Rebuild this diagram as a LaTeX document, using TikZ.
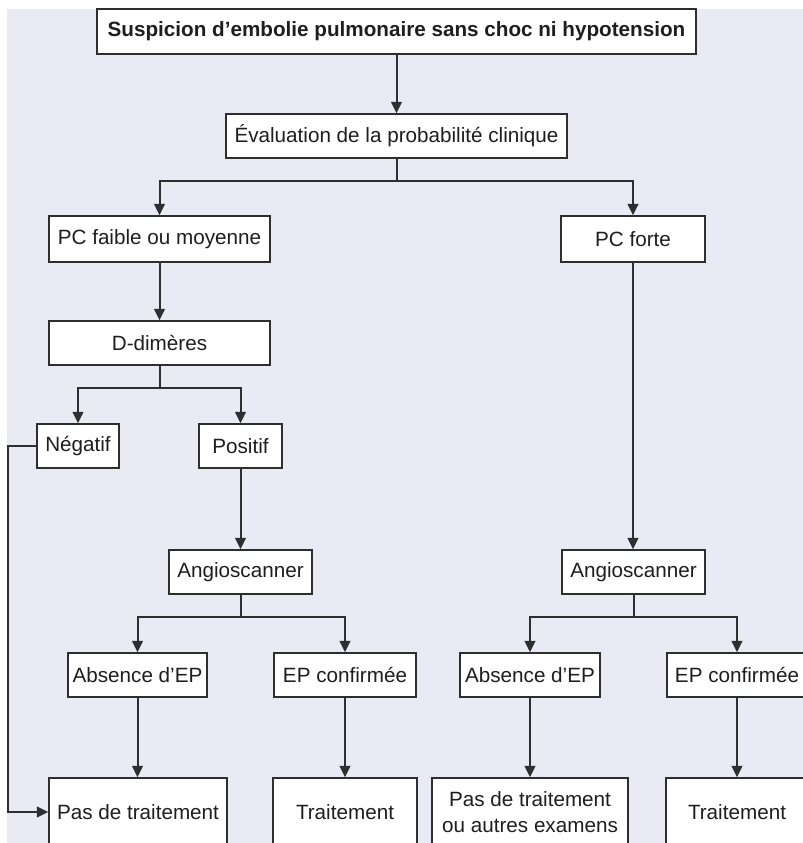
\documentclass[tikz,border=0pt]{standalone}
\usepackage{fontspec}
\setmainfont{Liberation Sans}
\usetikzlibrary{arrows.meta}
\definecolor{bgc}{HTML}{E9EAF4}
\definecolor{ln}{HTML}{2E2E2E}
\definecolor{txt}{HTML}{1E1E1E}
\begin{document}
\begin{tikzpicture}[x=0.75pt,y=-0.75pt,
  box/.style={draw=ln, line width=1.2pt, fill=white, inner sep=0pt, text=txt,
    font=\fontsize{15.5}{19}\selectfont, align=center},
  wh/.style 2 args={minimum width=#1*0.75pt, minimum height=#2*0.75pt},
  arr/.style={draw=ln, line width=1.5pt, -{Triangle[length=8.5pt,width=8pt]}},
  ln2/.style={draw=ln, line width=1.5pt}]
\useasboundingbox (0,0) rectangle (803,843);
\clip (0,0) rectangle (803,843);
\fill[white] (0,0) rectangle (803,843);
\fill[bgc] (7,9) rectangle (803,843);

\node[box, wh={599}{45}, font=\fontsize{15.5}{18}\selectfont\bfseries] (top) at (396.5,31.5) {Suspicion d’embolie pulmonaire sans choc ni hypotension};
\node[box, wh={341}{44}] (eval) at (396.5,136) {Évaluation de la probabilité clinique};
\node[box, wh={221}{46}] (pcf) at (159.5,239) {PC faible ou moyenne};
\node[box, wh={144}{46}] (pcF) at (633,239) {PC forte};
\node[box, wh={221}{44}] (dd) at (159.5,343) {D-dimères};
\node[box, wh={82}{44}] (neg) at (78,446) {Négatif};
\node[box, wh={83}{44}] (pos) at (240.5,446) {Positif};
\node[box, wh={143}{44}] (angL) at (240.5,572) {Angioscanner};
\node[box, wh={143}{44}] (angR) at (633.5,572) {Angioscanner};
\node[box, wh={139}{44}] (absL) at (137.5,675) {Absence d’EP};
\node[box, wh={142}{44}] (confL) at (345,675) {EP confirmée};
\node[box, wh={140}{44}] (absR) at (530,675) {Absence d’EP};
\node[box, wh={140}{44}] (confR) at (737,675) {EP confirmée};
\node[box, wh={178}{68}] (pdtL) at (138,812) {Pas de traitement};
\node[box, wh={144}{68}] (trL) at (345,812) {Traitement};
\node[box, wh={196}{68}] (pdtR) at (530,812) {Pas de traitement\\ou autres examens};
\node[box, wh={142}{68}] (trR) at (737,812) {Traitement};

\coordinate (j1) at (396.5,181);
\coordinate (j2) at (159.5,388);
\coordinate (j3) at (240.5,617);
\coordinate (j4) at (633.5,617);
\coordinate (nl) at (8,446);

\draw[arr] (top) -- (eval);
\draw[ln2] (eval.south) -- (j1);
\draw[arr] (j1) -| (pcf.north);
\draw[arr] (j1) -| (pcF.north);
\draw[arr] (pcf) -- (dd);
\draw[ln2] (dd.south) -- (j2);
\draw[arr] (j2) -| (neg.north);
\draw[arr] (j2) -| (pos.north);
\draw[arr] (neg.west) -- (nl) |- (pdtL.west);
\draw[arr] (pos) -- (angL);
\draw[arr] (pcF.south) -- (pcF.south |- angR.north);
\draw[ln2] (angL.south) -- (j3);
\draw[arr] (j3) -| (absL.north);
\draw[arr] (j3) -| (confL.north);
\draw[ln2] (angR.south) -- (j4);
\draw[arr] (j4) -| (absR.north);
\draw[arr] (j4) -| (confR.north);
\draw[arr] (absL.south) -- (absL.south |- pdtL.north);
\draw[arr] (confL) -- (trL);
\draw[arr] (absR) -- (pdtR);
\draw[arr] (confR) -- (trR);
\end{tikzpicture}
\end{document}
